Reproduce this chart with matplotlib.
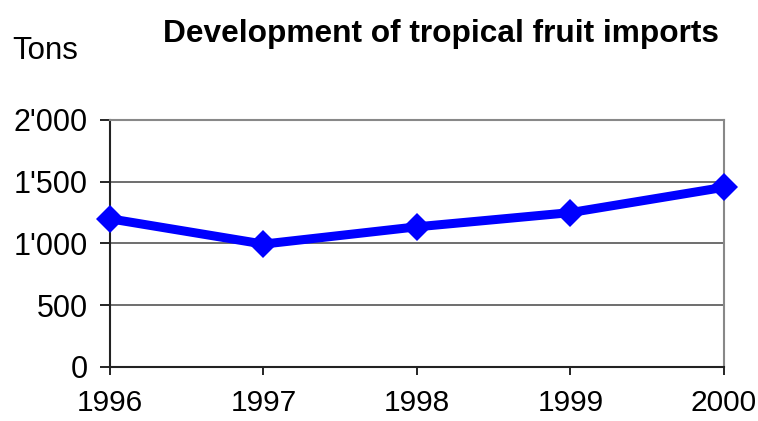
import matplotlib.pyplot as plt
from matplotlib.ticker import FuncFormatter

plt.rcParams['font.family'] = ['Liberation Sans', 'DejaVu Sans']

# Data
years = [1996, 1997, 1998, 1999, 2000]
tons = [1200, 995, 1135, 1250, 1455]
y_ticks = [0, 500, 1000, 1500, 2000]

fig = plt.figure(figsize=(7.58, 4.21), dpi=100)
ax = fig.add_axes([0.1451, 0.1283, 0.8100, 0.5867])

ax.plot(years, tons, color='#0000ff', linewidth=6.5, marker='D',
        markersize=14, markeredgewidth=0, solid_joinstyle='miter', clip_on=False, zorder=5)

ax.set_xlim(1996, 2000)
ax.set_ylim(0, 2000)
ax.set_xticks(years)
ax.set_yticks(y_ticks)
ax.yaxis.set_major_formatter(FuncFormatter(lambda v, p: f"{int(v):,}".replace(',', "'")))

# Grid and frame
ax.grid(axis='y', color='#555555', linewidth=1.2)
ax.set_axisbelow(True)
ax.spines['top'].set_color('#888888')
ax.spines['right'].set_color('#888888')
ax.spines['left'].set_color('#222222')
ax.spines['bottom'].set_color('#222222')
for s in ax.spines.values():
    s.set_linewidth(1.5)

ax.tick_params(axis='y', direction='out', length=7, width=1.2, pad=9, labelsize=22)
ax.tick_params(axis='x', direction='out', length=6, width=1.2, pad=10, labelsize=21.5)

# Titles
fig.text(0.582, 0.92, 'Development of tropical fruit imports', ha='center', va='center',
         fontsize=22.8, fontweight='bold')
fig.text(0.016, 0.88, 'Tons', ha='left', va='center', fontsize=22.5)

fig.savefig('out.png', dpi=100)
